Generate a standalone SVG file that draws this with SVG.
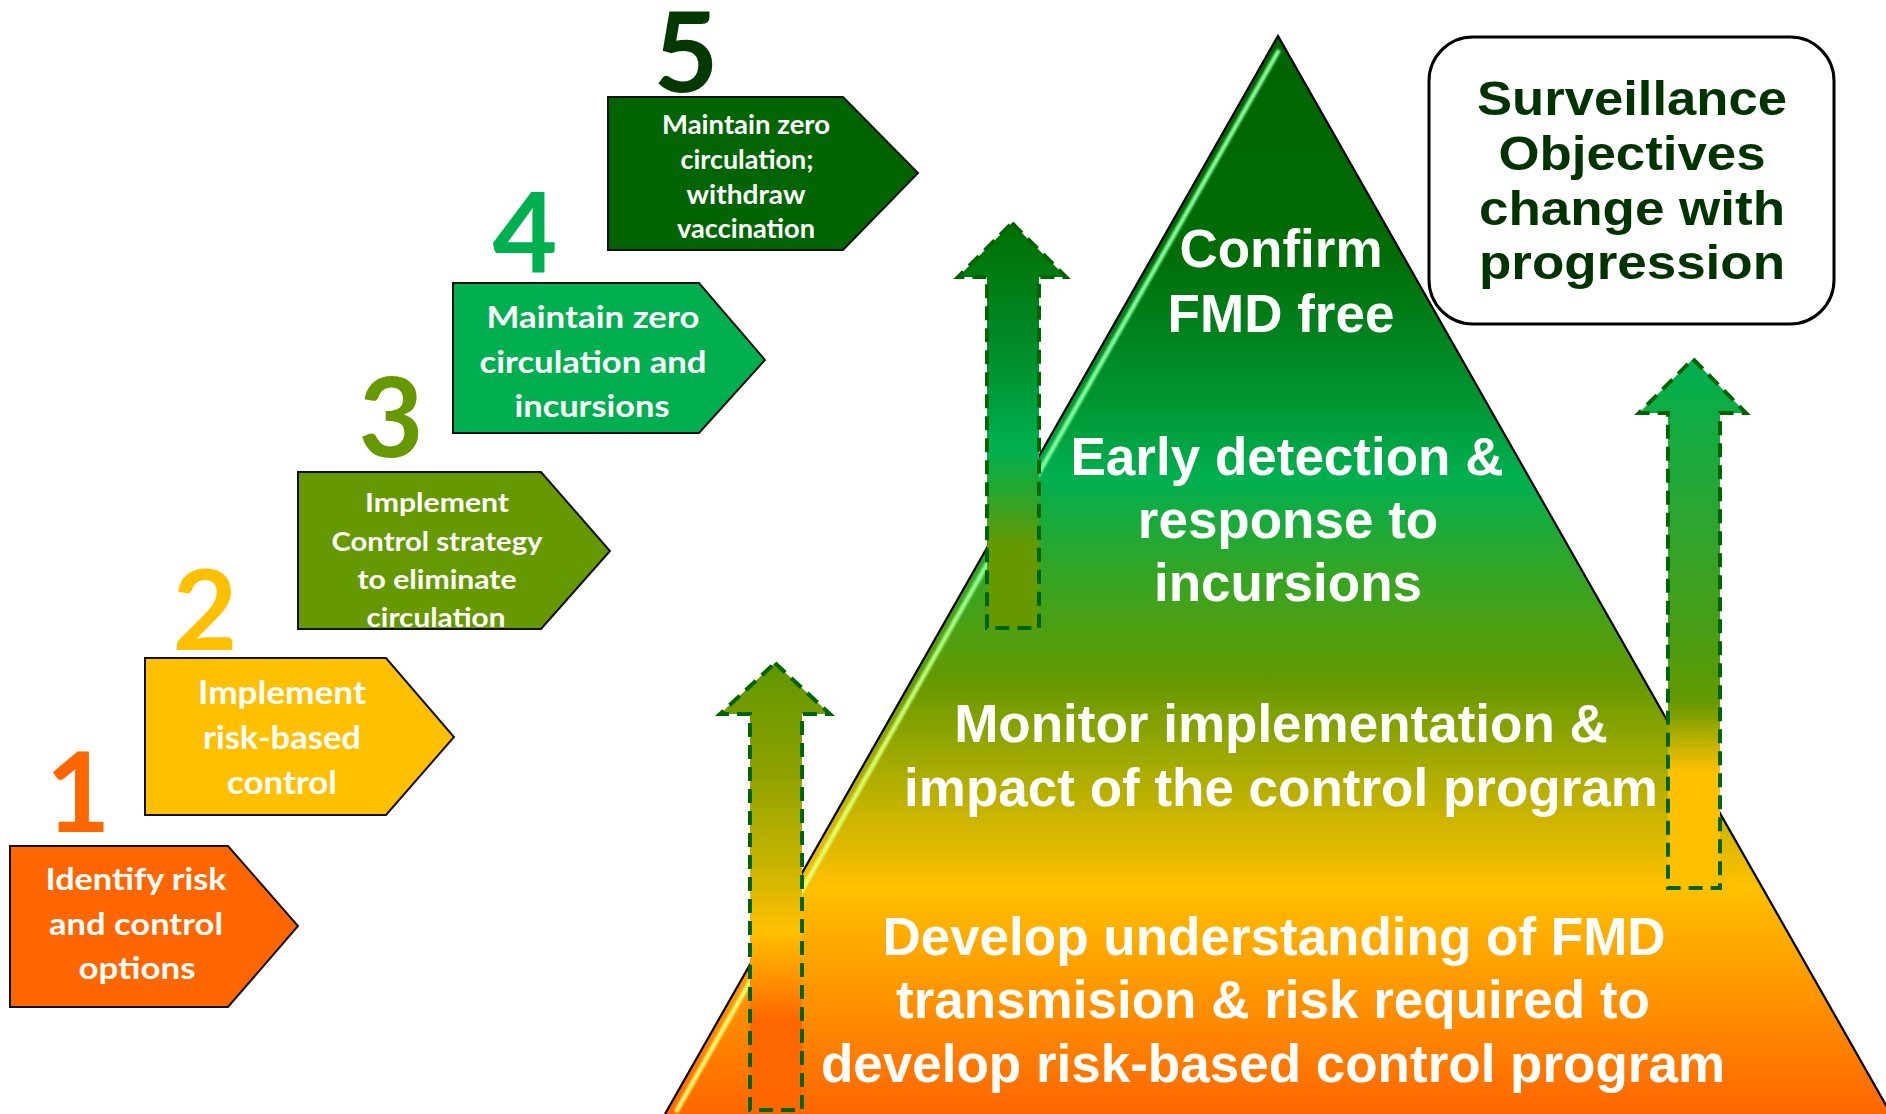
<svg xmlns="http://www.w3.org/2000/svg" width="1886" height="1114" viewBox="0 0 1886 1114">
<defs>
<style>
.step{stroke:#111;stroke-width:2;stroke-linejoin:miter}
.st{font-family:Lato,"Open Sans","Liberation Sans",sans-serif;font-weight:700;fill:#fff;text-anchor:middle}
.num{font-family:Lato,"Open Sans","Liberation Sans",sans-serif;font-weight:700;font-size:112px;text-anchor:middle}
.pt{font-family:"Liberation Sans",Arial,sans-serif;font-weight:700;font-size:53px;fill:#fff;text-anchor:middle}
.sv{font-family:"Liberation Sans",Arial,sans-serif;font-weight:700;font-size:48px;fill:#003300;text-anchor:middle}
.arr{stroke:#006400;stroke-width:4;stroke-dasharray:14 8;stroke-linejoin:miter}
</style>
<filter id="soft" x="-10%" y="-10%" width="120%" height="120%">
<feGaussianBlur stdDeviation="0.8"/>
</filter>
<linearGradient id="gTri" x1="0" y1="36" x2="0" y2="1114" gradientUnits="userSpaceOnUse">
<stop offset="0" stop-color="#006400"/>
<stop offset="0.2" stop-color="#006c06"/>
<stop offset="0.34" stop-color="#009632"/>
<stop offset="0.41" stop-color="#00b050"/>
<stop offset="0.49" stop-color="#30a628"/>
<stop offset="0.6" stop-color="#669900"/>
<stop offset="0.71" stop-color="#c0b200"/>
<stop offset="0.79" stop-color="#ffc000"/>
<stop offset="0.89" stop-color="#ff9400"/>
<stop offset="1" stop-color="#ff6600"/>
</linearGradient>
<linearGradient id="gHi" x1="0" y1="50" x2="0" y2="1114" gradientUnits="userSpaceOnUse">
<stop offset="0" stop-color="#8cff9c"/>
<stop offset="0.45" stop-color="#80ffa0"/>
<stop offset="0.65" stop-color="#d8ff70"/>
<stop offset="1" stop-color="#ffff70"/>
</linearGradient>
<linearGradient id="gA" x1="0" y1="0" x2="0" y2="1">
<stop offset="0" stop-color="#609600"/>
<stop offset="0.25" stop-color="#8fa200"/>
<stop offset="0.45" stop-color="#c8b400"/>
<stop offset="0.6" stop-color="#ffc000"/>
<stop offset="0.8" stop-color="#ff6800"/>
<stop offset="1" stop-color="#ff6600"/>
</linearGradient>
<linearGradient id="gB" x1="0" y1="0" x2="0" y2="1">
<stop offset="0" stop-color="#007000"/>
<stop offset="0.3" stop-color="#008a28"/>
<stop offset="0.56" stop-color="#00b050"/>
<stop offset="0.68" stop-color="#2ea52a"/>
<stop offset="0.8" stop-color="#669900"/>
<stop offset="1" stop-color="#669900"/>
</linearGradient>
<linearGradient id="gC" x1="0" y1="0" x2="0" y2="1">
<stop offset="0" stop-color="#00b050"/>
<stop offset="0.3" stop-color="#2ca530"/>
<stop offset="0.55" stop-color="#4e9c10"/>
<stop offset="0.65" stop-color="#669900"/>
<stop offset="0.72" stop-color="#b8b000"/>
<stop offset="0.78" stop-color="#ffc000"/>
<stop offset="1" stop-color="#ffc000"/>
</linearGradient>
</defs>
<rect width="1886" height="1114" fill="#fff"/>

<g id="pyramid">
<polygon points="1278,36 665,1114 1891,1114" fill="url(#gTri)"/>
<line x1="1279" y1="50" x2="676" y2="1112" stroke="url(#gHi)" stroke-width="4.5" filter="url(#soft)"/>
<polyline points="665,1114 1278,36 1891,1114" fill="none" stroke="#000" stroke-width="2.2"/>
<text class="pt" x="1281" y="267">Confirm</text>
<text class="pt" x="1281" y="332">FMD free</text>
<text class="pt" x="1287" y="475">Early detection &amp;</text>
<text class="pt" x="1288" y="538">response to</text>
<text class="pt" x="1288" y="601">incursions</text>
<text class="pt" x="1281" y="742">Monitor implementation &amp;</text>
<text class="pt" x="1281" y="806">impact of the control program</text>
<text class="pt" x="1274" y="955">Develop understanding of FMD</text>
<text class="pt" x="1273" y="1018">transmision &amp; risk required to</text>
<text class="pt" x="1273" y="1082">develop risk-based control program</text>
</g>

<g id="surveillance-box">
<rect x="1429" y="37" width="405" height="287" rx="44" ry="44" fill="#fff" stroke="#000" stroke-width="3"/>
<text class="sv" x="1632" y="115" textLength="310" lengthAdjust="spacingAndGlyphs">Surveillance</text>
<text class="sv" x="1632" y="170" textLength="267" lengthAdjust="spacingAndGlyphs">Objectives</text>
<text class="sv" x="1632" y="225" textLength="306" lengthAdjust="spacingAndGlyphs">change with</text>
<text class="sv" x="1632" y="279" textLength="306" lengthAdjust="spacingAndGlyphs">progression</text>
</g>

<g id="step1">
<polygon class="step" points="10,846 228,846 298,926 228,1007 10,1007" fill="#ff6600"/>
<text class="num" x="78" y="832" fill="#ff6600">1</text>
<text class="st" x="136" y="890" font-size="31" textLength="181" lengthAdjust="spacingAndGlyphs">Identify risk</text>
<text class="st" x="136" y="935" font-size="31" textLength="174" lengthAdjust="spacingAndGlyphs">and control</text>
<text class="st" x="137" y="979" font-size="31" textLength="117" lengthAdjust="spacingAndGlyphs">options</text>
</g>

<g id="step2">
<polygon class="step" points="145,658 386,658 454,737 386,815 145,815" fill="#ffc000"/>
<text class="num" x="205" y="650" fill="#ffc000">2</text>
<text class="st" x="282" y="704" font-size="32" textLength="168" lengthAdjust="spacingAndGlyphs">Implement</text>
<text class="st" x="282" y="749" font-size="32" textLength="158" lengthAdjust="spacingAndGlyphs">risk-based</text>
<text class="st" x="282" y="794" font-size="32" textLength="110" lengthAdjust="spacingAndGlyphs">control</text>
</g>

<g id="step3">
<polygon class="step" points="298,472 541,472 610,551 541,629 298,629" fill="#669900"/>
<text class="num" x="391" y="457" fill="#669900">3</text>
<text class="st" x="437" y="512" font-size="27" textLength="144" lengthAdjust="spacingAndGlyphs">Implement</text>
<text class="st" x="437" y="551" font-size="27" textLength="211" lengthAdjust="spacingAndGlyphs">Control strategy</text>
<text class="st" x="437" y="589" font-size="27" textLength="159" lengthAdjust="spacingAndGlyphs">to eliminate</text>
<text class="st" x="436" y="627" font-size="27" textLength="139" lengthAdjust="spacingAndGlyphs">circulation</text>
</g>

<g id="step4">
<polygon class="step" points="453,283 699,283 765,360 699,433 453,433" fill="#00b050"/>
<text class="num" x="525" y="273" fill="#00b050">4</text>
<text class="st" x="593" y="328" font-size="31" textLength="213" lengthAdjust="spacingAndGlyphs">Maintain zero</text>
<text class="st" x="593" y="373" font-size="31" textLength="227" lengthAdjust="spacingAndGlyphs">circulation and</text>
<text class="st" x="592" y="417" font-size="31" textLength="155" lengthAdjust="spacingAndGlyphs">incursions</text>
</g>

<g id="step5">
<polygon class="step" points="608,97 843,97 918,173 843,250 608,250" fill="#006400"/>
<text class="num" x="686" y="92" fill="#033803">5</text>
<text class="st" x="746" y="134" font-size="27" textLength="168" lengthAdjust="spacingAndGlyphs">Maintain zero</text>
<text class="st" x="747" y="169" font-size="27" textLength="133" lengthAdjust="spacingAndGlyphs">circulation;</text>
<text class="st" x="746" y="204" font-size="27" textLength="119" lengthAdjust="spacingAndGlyphs">withdraw</text>
<text class="st" x="746" y="238" font-size="27" textLength="138" lengthAdjust="spacingAndGlyphs">vaccination</text>
</g>

<g id="connectors">
<polygon id="arrowA" class="arr" points="775,663 830,714 802,714 802,1110 750,1110 750,714 720,714" fill="url(#gA)"/>
<polygon id="arrowB" class="arr" points="1012,223 1066,277 1039,277 1039,628 987,628 987,277 958,277" fill="url(#gB)"/>
<polygon id="arrowC" class="arr" points="1693,359 1746,413 1720,413 1720,888 1668,888 1668,413 1639,413" fill="url(#gC)"/>
</g>
</svg>
